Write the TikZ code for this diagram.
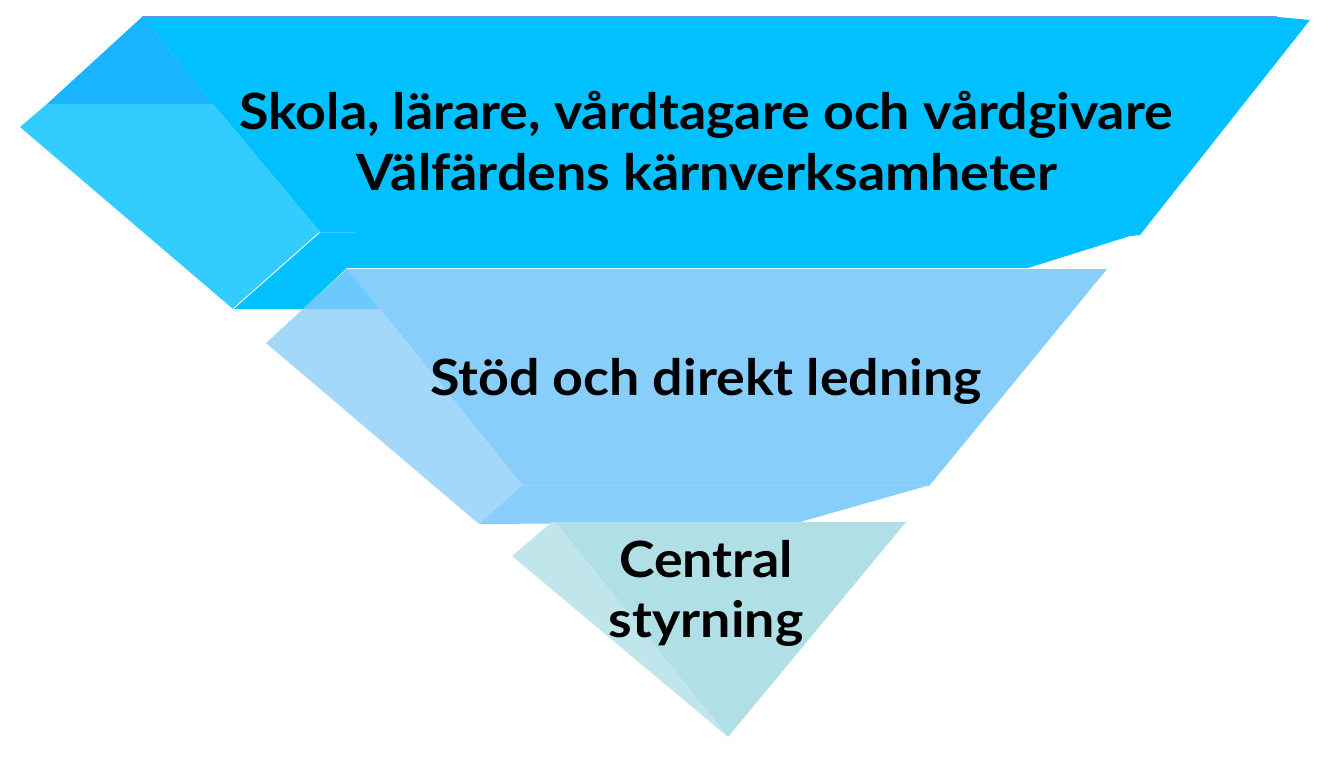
\documentclass[tikz,border=0pt]{standalone}
\usepackage{fontspec}
\setmainfont{Lato}[FakeStretch=1.075]
\definecolor{topfront}{HTML}{00C0FF}
\definecolor{topside}{HTML}{33CCFF}
\definecolor{topdark}{HTML}{18B4FF}
\definecolor{topline}{HTML}{6F8FE8}
\definecolor{midfront}{HTML}{87CEFA}
\definecolor{midside}{HTML}{A3D8FA}
\definecolor{middark}{HTML}{6CC9FE}
\definecolor{lowfront}{HTML}{B0DFE5}
\definecolor{lowside}{HTML}{C0E6EB}
\tikzset{
  lbl/.style={font=\bfseries\fontsize{50}{60}\selectfont, anchor=base, inner sep=0pt, text=black},
}
\begin{document}
\begin{tikzpicture}[x=1pt,y=-1pt]
\useasboundingbox (0,0) rectangle (1339,757);
% top band
\fill[topfront] (142,17) -- (1278,17) -- (1310,20) -- (1140,235) -- (1130,236) -- (1028,268) -- (347,268) -- (303,309) -- (233,309) -- (320,232) -- (213,104) -- cycle;
\fill[topside] (47,104) -- (213,104) -- (320,232) -- (233,309) -- (20,127) -- cycle;
\fill[topdark] (142,17) -- (47,104) -- (213,104) -- cycle;
\draw[topline, line width=2pt] (142,17) -- (1277,17);
\draw[white, line width=0.8pt] (320,232) -- (233,309);
\draw[white!20!topfront, line width=0.8pt] (320,232) -- (356,232);
% middle band
\fill[midfront] (347,269) -- (1107,269) -- (930,485) -- (800,522) -- (479,524) -- (522,485) -- (380,309) -- cycle;
\fill[midside] (303,309) -- (380,309) -- (522,485) -- (479,524) -- (266,343) -- cycle;
\fill[middark] (347,269) -- (303,309) -- (380,309) -- cycle;
\draw[white!15!midfront, line width=0.8pt] (522,485) -- (930,485);
% bottom band
\fill[lowfront] (555,522) -- (906,522) -- (728,737) -- cycle;
\fill[lowside] (552,522) -- (555,522) -- (728,737) -- (512,556) -- cycle;
% labels
\node[lbl] (t1) at (706,130) {Skola, lärare, vårdtagare och vårdgivare};
\node[lbl] (t2) at (707,190) {Välfärdens kärnverksamheter};
\node[lbl] (m1) at (706,395) {Stöd och direkt ledning};
\node[lbl] (b1) at (706,577) {Central};
\node[lbl] (b2) at (706,637) {styrning};
\end{tikzpicture}
\end{document}
